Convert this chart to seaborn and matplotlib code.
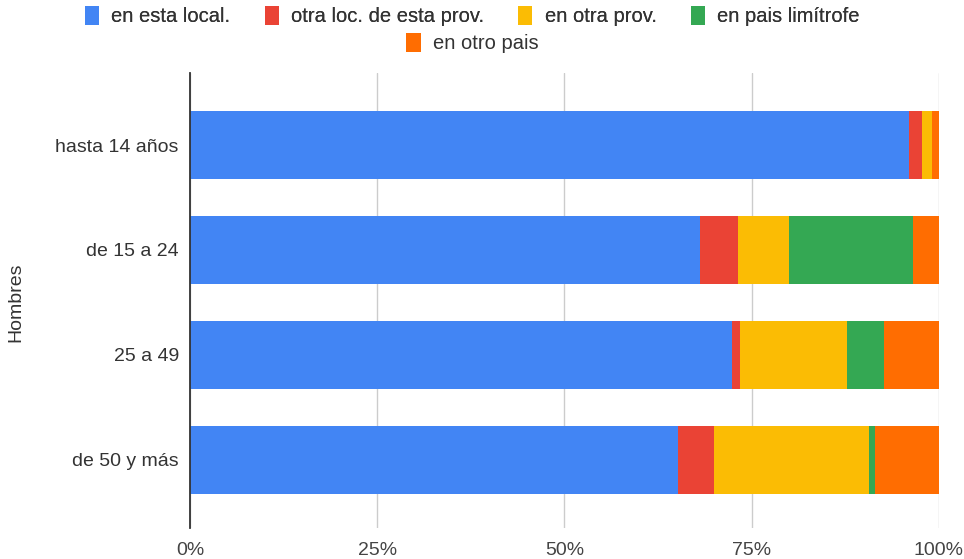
import numpy as np
import pandas as pd
import matplotlib
matplotlib.use("Agg")
import matplotlib.pyplot as plt
from matplotlib.patches import Patch
import seaborn as sns

# Age groups (rows) and place-of-origin shares (%) for men
categories = ["hasta 14 años", "de 15 a 24", "25 a 49", "de 50 y más"]
series_names = ["en esta local.", "otra loc. de esta prov.", "en otra prov.",
                "en pais limítrofe", "en otro pais"]
en_esta_local = [96.0, 68.1, 72.4, 65.2]
otra_loc_prov = [1.8, 5.1, 1.0, 4.8]
en_otra_prov = [1.3, 6.8, 14.3, 20.7]
en_pais_limitrofe = [0.0, 16.5, 4.9, 0.8]
en_otro_pais = [0.9, 3.5, 7.4, 8.5]
x_ticks = [0, 25, 50, 75, 100]
x_tick_labels = ["0%", "25%", "50%", "75%", "100%"]
y_title = "Hombres"

colors = ["#4285F4", "#EA4335", "#FBBC04", "#34A853", "#FF6D01"]

sns.set_theme(style="white")
plt.rcParams["font.family"] = ["Liberation Sans", "DejaVu Sans"]

values = np.array([en_esta_local, otra_loc_prov, en_otra_prov,
                   en_pais_limitrofe, en_otro_pais])
cum = np.cumsum(values, axis=0)

fig = plt.figure(figsize=(9.64, 5.59), dpi=100)
ax = fig.add_axes([0.197, 0.0555, 0.777, 0.8145])

# Stacked horizontal bars: draw cumulative totals from the outermost segment inwards
for i in range(len(series_names) - 1, -1, -1):
    df = pd.DataFrame({"grupo": categories, "valor": cum[i]})
    sns.barplot(data=df, y="grupo", x="valor", orient="h", color=colors[i],
                saturation=1, width=0.65, linewidth=0, ax=ax, zorder=3)

ax.set_xlim(0, 100)
ax.set_ylim(3.65, -0.69)
ax.set_xticks(x_ticks)
ax.set_xticklabels(x_tick_labels)
ax.xaxis.grid(True, color="#cccccc", linewidth=1.0, zorder=0)
ax.yaxis.grid(False)
for side in ["top", "right", "bottom"]:
    ax.spines[side].set_visible(False)
ax.spines["left"].set_color("#333333")
ax.spines["left"].set_linewidth(1.3)
ax.spines["left"].set_zorder(5)
ax.tick_params(axis="x", length=0, pad=10, labelsize=14, labelcolor="#444444")
ax.tick_params(axis="y", length=0, pad=8, labelsize=14, labelcolor="#333333")
ax.set_xlabel("")
ax.set_ylabel("")
fig.text(0.016, 0.46, y_title, rotation=90, ha="center", va="center",
         fontsize=14, color="#333333")

handles = [Patch(facecolor=c, edgecolor="none", label=n)
           for c, n in zip(colors, series_names)]
leg_kw = dict(frameon=False, fontsize=14.5, handlelength=0.7, handleheight=1.05,
              handletextpad=0.6, columnspacing=1.7, borderaxespad=0,
              labelcolor="#333333")
leg1 = fig.legend(handles=handles[:4], ncol=4, loc="center",
                  bbox_to_anchor=(0.49, 0.971), **leg_kw)
fig.add_artist(leg1)
fig.legend(handles=handles[4:], ncol=1, loc="center",
           bbox_to_anchor=(0.49, 0.923), **leg_kw)

fig.savefig("out.png", dpi=100)
